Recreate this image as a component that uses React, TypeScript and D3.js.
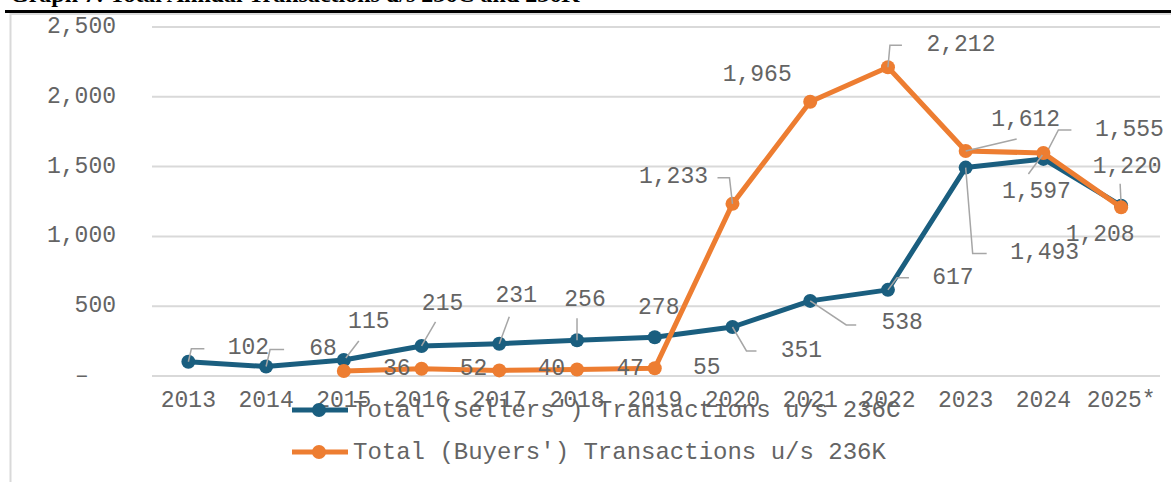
import React from "react";
import { scaleBand, scaleLinear, line, format } from "d3";

const W = 1171;
const H = 482;

const years = ["2013", "2014", "2015", "2016", "2017", "2018", "2019", "2020", "2021", "2022", "2023", "2024", "2025*"];
const sellers = [102, 68, 115, 215, 231, 256, 278, 351, 538, 617, 1493, 1555, 1220];
// buyers series starts in 2015
const buyers = [null, null, 36, 52, 40, 47, 55, 1233, 1965, 2212, 1612, 1597, 1208];
const yTicks = [0, 500, 1000, 1500, 2000, 2500];

const sellersName = "Total (Sellers') Transactions u/s 236C";
const buyersName = "Total (Buyers') Transactions u/s 236K";
const title = "Graph 7: Total Annual Transactions u/s 236C and 236K";

// label placement: [dx, dy] of text centre from the point, plus leader line (relative points)
const sellerLabels = [
  { dx: 60, dy: -14, leader: [[0, 0], [3, -13], [16, -13]] },
  { dx: 57, dy: -18, leader: [[0, 0], [4, -17], [18, -17]] },
  { dx: 25, dy: -38, leader: [[2, -2], [15, -19]] },
  { dx: 21, dy: -42, leader: [[0, 0], [14, -24]] },
  { dx: 17, dy: -48, leader: [[0, 0], [10, -27]] },
  { dx: 8, dy: -40, leader: [[0, 0], [0, -22]] },
  { dx: 4, dy: -29, leader: null },
  { dx: 69, dy: 24, leader: [[0, 0], [14, 24], [24, 24]] },
  { dx: 92, dy: 22, leader: [[0, 0], [36, 24], [46, 24]] },
  { dx: 65, dy: -12, leader: [[0, 0], [9, -12], [21, -12]] },
  { dx: 79, dy: 85, leader: [[0, 0], [7, 86], [21, 86]] },
  { dx: 86, dy: -29, leader: [[0, 0], [15, -29], [28, -29]] },
  { dx: 6, dy: -39, leader: [[0, 0], [-1, -22]] },
];
const buyerLabels = [
  null,
  null,
  { dx: 53, dy: -2, leader: null },
  { dx: 52, dy: 0, leader: null },
  { dx: 52, dy: -1, leader: null },
  { dx: 53, dy: 0, leader: null },
  { dx: 52, dy: 0, leader: null },
  { dx: -59, dy: -27, leader: [[0, 0], [-3, -26], [-15, -26]] },
  { dx: -53, dy: -27, leader: null },
  { dx: 73, dy: -22, leader: [[0, 0], [2, -22], [14, -22]] },
  { dx: 60, dy: -31, leader: [[0, 0], [51, -12]] },
  { dx: -7, dy: 39, leader: [[-1, 2], [-15, 21]] },
  { dx: -21, dy: 28, leader: null },
];

const BLUE = "#1A5E7F";
const ORANGE = "#ED7D31";
const TEXT = "#646464";
const FONT = "'Liberation Mono', 'Courier New', monospace";

const x = scaleBand().domain(years).range([149.5, 1160]);
const y = scaleLinear().domain([0, 2500]).range([376, 27]);
const fmt = format(",");

function Series({ values, color, labels }) {
  const pts = values
    .map((v, i) => (v == null ? null : { v, i, px: x(years[i]) + x.bandwidth() / 2, py: y(v) }))
    .filter(Boolean);
  const path = line().x((d) => d.px).y((d) => d.py)(pts);
  return (
    <g>
      <path d={path} fill="none" stroke={color} strokeWidth={5} strokeLinejoin="round" />
      {pts.map((d) => (
        <circle key={d.i} cx={d.px} cy={d.py} r={7} fill={color} />
      ))}
      {pts.map((d) => {
        const l = labels[d.i];
        if (!l || !l.leader) return null;
        return (
          <polyline
            key={`ld${d.i}`}
            points={l.leader.map(([a, b]) => `${d.px + a},${d.py + b}`).join(" ")}
            fill="none"
            stroke="#a6a6a6"
            strokeWidth={1.5}
          />
        );
      })}
    </g>
  );
}

function Labels({ values, labels }) {
  return (
    <g>
      {values.map((v, i) => {
        if (v == null) return null;
        const l = labels[i];
        const px = x(years[i]) + x.bandwidth() / 2;
        return (
          <text
            key={i}
            x={px + l.dx}
            y={y(v) + l.dy}
            textAnchor="middle"
            dominantBaseline="central"
            fill={TEXT}
            fontSize={23}
            fontFamily={FONT}
          >
            {fmt(v)}
          </text>
        );
      })}
    </g>
  );
}

export default function App() {
  const legend = [
    { name: sellersName, color: BLUE, ly: 410 },
    { name: buyersName, color: ORANGE, ly: 452 },
  ];
  return (
    <svg
      width={W}
      height={H}
      style={{ position: "absolute", left: 0, top: 0, background: "#fff" }}
    >
      {/* title sits mostly above the crop */}
      <text x={10} y={2} fontFamily="'Liberation Serif', 'Times New Roman', serif" fontWeight="bold" fontSize={24} fill="#000">
        {title}
      </text>
      <rect x={5} y={10} width={W - 5} height={3} fill="#000" />
      <rect x={10} y={13} width={W - 10} height={2} fill="#d9d9d9" />
      <rect x={9.5} y={13} width={2} height={H - 13} fill="#d9d9d9" />

      {yTicks.map((t) => (
        <g key={t}>
          <line x1={152} x2={1160} y1={y(t)} y2={y(t)} stroke="#d9d9d9" strokeWidth={2} />
          <text
            x={t === 0 ? 82 : 116}
            y={y(t)}
            textAnchor={t === 0 ? "middle" : "end"}
            dominantBaseline="central"
            fill={TEXT}
            fontSize={23}
            fontFamily={FONT}
          >
            {t === 0 ? "–" : fmt(t)}
          </text>
        </g>
      ))}

      {years.map((yr) => (
        <text
          key={yr}
          x={x(yr) + x.bandwidth() / 2}
          y={401}
          textAnchor="middle"
          dominantBaseline="central"
          fill={TEXT}
          fontSize={23}
          fontFamily={FONT}
        >
          {yr}
        </text>
      ))}

      <Series values={sellers} color={BLUE} labels={sellerLabels} />
      <Series values={buyers} color={ORANGE} labels={buyerLabels} />
      <Labels values={sellers} labels={sellerLabels} />
      <Labels values={buyers} labels={buyerLabels} />

      {legend.map((l) => (
        <g key={l.name}>
          <line x1={292} x2={348} y1={l.ly} y2={l.ly} stroke={l.color} strokeWidth={5} />
          <circle cx={319} cy={l.ly} r={7} fill={l.color} />
          <text x={353} y={l.ly} dominantBaseline="central" fill={TEXT} fontSize={24} fontFamily={FONT}>
            {l.name}
          </text>
        </g>
      ))}
    </svg>
  );
}
